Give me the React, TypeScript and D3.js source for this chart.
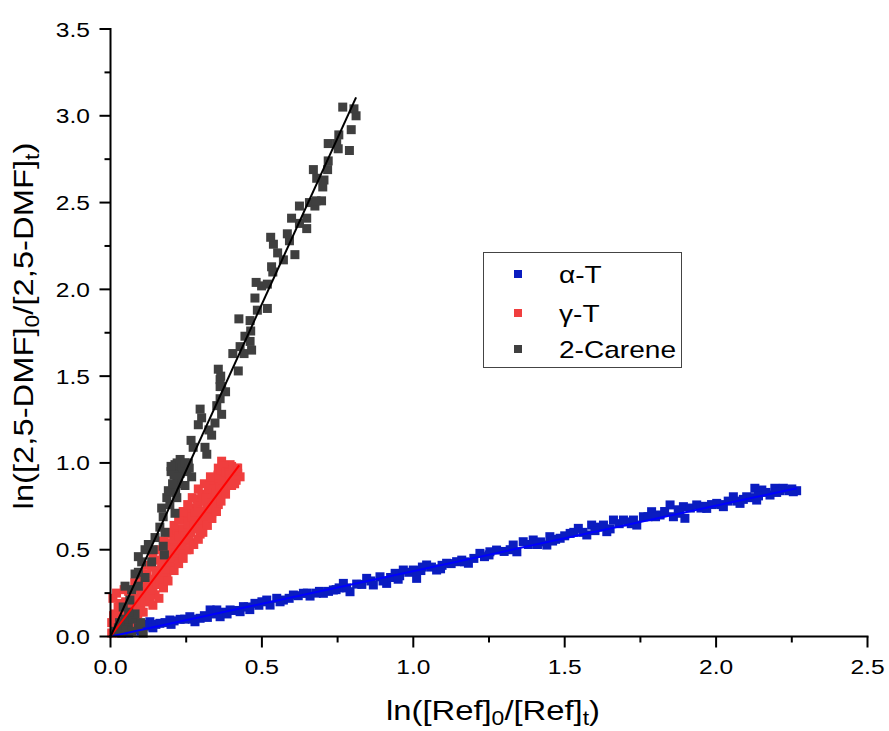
import React from "react";
import * as d3 from "d3";

const xTicks = [0, 0.5, 1.0, 1.5, 2.0, 2.5];
const yTicks = [0, 0.5, 1.0, 1.5, 2.0, 2.5, 3.0, 3.5];
const seriesNames = ["α-T", "γ-T", "2-Carene"];
const markerColors = ["#0A1CC0", "#F03E3E", "#3F3F3F"];
const lineColors = ["#0000FF", "#FF0000", "#000000"];
const fitSlopes = [0.377, 2.32, 3.83];
const fitXEnd = [2.266, 0.425, 0.811];

const alphaPts: [number, number][] = [
  [0.06,0.02],[0.08,0.04],[0.09,0.06],[0.1,0.03],[0.11,0.07],[0.12,0.06],[0.13,0.085],[0.15,0.07],[0.163,0.076],[0.18,0.08],
  [0.196,0.095],[0.21,0.09],[0.23,0.099],[0.245,0.1],[0.262,0.114],[0.279,0.085],[0.296,0.105],[0.31,0.12],[0.329,0.153],[0.34,0.13],
  [0.351,0.153],[0.362,0.114],[0.375,0.14],[0.395,0.153],[0.41,0.15],[0.428,0.143],[0.439,0.172],[0.455,0.17],[0.477,0.191],[0.49,0.18],
  [0.516,0.21],[0.527,0.181],[0.549,0.22],[0.571,0.21],[0.59,0.22],[0.604,0.239],[0.62,0.235],[0.637,0.249],[0.659,0.233],[0.68,0.25],
  [0.703,0.249],[0.72,0.26],[0.736,0.268],[0.755,0.28],[0.769,0.306],[0.791,0.258],[0.813,0.302],[0.83,0.3],[0.846,0.335],[0.868,0.297],
  [0.89,0.344],[0.912,0.306],[0.925,0.34],[0.94,0.364],[0.955,0.35],[0.967,0.383],[0.985,0.37],[1.0,0.383],[1.011,0.335],[1.025,0.38],
  [1.044,0.412],[1.06,0.4],[1.077,0.383],[1.095,0.41],[1.11,0.422],[1.125,0.42],[1.143,0.431],[1.16,0.44],[1.182,0.422],[1.2,0.45],
  [1.22,0.479],[1.235,0.46],[1.253,0.488],[1.275,0.498],[1.3,0.49],[1.33,0.527],[1.342,0.488],[1.363,0.546],[1.38,0.53],[1.396,0.556],
  [1.42,0.545],[1.441,0.527],[1.451,0.575],[1.47,0.56],[1.485,0.566],[1.5,0.58],[1.518,0.594],[1.53,0.6],[1.545,0.623],[1.573,0.585],
  [1.589,0.642],[1.61,0.63],[1.628,0.642],[1.639,0.604],[1.661,0.671],[1.68,0.65],[1.694,0.671],[1.71,0.66],[1.727,0.671],[1.738,0.642],
  [1.76,0.69],[1.775,0.69],[1.787,0.719],[1.815,0.7],[1.83,0.72],[1.848,0.758],[1.859,0.69],[1.875,0.73],[1.892,0.748],[1.897,0.681],
  [1.915,0.74],[1.936,0.758],[1.95,0.74],[1.969,0.738],[1.985,0.76],[2.002,0.767],[2.024,0.748],[2.04,0.78],[2.057,0.805],[2.079,0.767],
  [2.09,0.79],[2.101,0.805],[2.128,0.854],[2.134,0.786],[2.151,0.844],[2.165,0.83],[2.178,0.815],[2.194,0.854],[2.21,0.84],[2.222,0.854],
  [2.24,0.84],[2.255,0.834],[2.266,0.84],
  [0.14,0.05],[0.2,0.07],[0.27,0.1],[0.32,0.11],[0.385,0.13],[0.46,0.155],[0.5,0.2],[0.56,0.2],[0.65,0.25],[0.69,0.26],
  [0.745,0.27],[0.78,0.28],[0.86,0.32],[0.9,0.32],[0.95,0.33],[1.03,0.4],[1.09,0.39],[1.17,0.43],[1.25,0.47],[1.32,0.5],
  [1.41,0.53],[1.46,0.55],[1.56,0.6],[1.6,0.61],[1.65,0.62],[1.72,0.65],[1.8,0.69],[1.88,0.71],[1.96,0.75],[2.015,0.76],
  [2.07,0.78],[2.115,0.8],[2.14,0.81],[2.2,0.83],[2.25,0.85]
];

const gammaPts: [number, number][] = [
  [0.004,0.02],[0.031,0.02],[0.015,0.05],[0.064,0.05],[0.004,0.08],[0.042,0.07],[0.026,0.1],[0.087,0.1],[0.053,0.11],[0.015,0.13],
  [0.037,0.15],[0.081,0.15],[0.108,0.14],[0.031,0.19],[0.059,0.18],[0.008,0.22],[0.02,0.25],[0.045,0.27],[0.097,0.2],[0.13,0.2],
  [0.07,0.23],[0.12,0.25],[0.147,0.24],[0.087,0.28],[0.136,0.31],[0.163,0.3],[0.103,0.33],[0.153,0.34],[0.186,0.34],[0.12,0.36],
  [0.136,0.4],[0.169,0.39],[0.202,0.4],[0.147,0.44],[0.174,0.47],[0.202,0.46],[0.23,0.46],[0.186,0.54],[0.213,0.52],[0.252,0.5],
  [0.202,0.59],[0.235,0.57],[0.273,0.54],[0.219,0.62],[0.263,0.61],[0.296,0.59],[0.246,0.67],[0.285,0.66],[0.312,0.65],[0.257,0.71],
  [0.312,0.71],[0.334,0.71],[0.273,0.74],[0.323,0.77],[0.356,0.76],[0.285,0.79],[0.301,0.82],[0.345,0.82],[0.373,0.83],[0.323,0.84],
  [0.362,0.86],[0.345,0.9],[0.406,0.89],[0.378,0.92],[0.428,0.92],[0.356,0.97],[0.417,0.97],[0.367,1.01],[0.395,0.99],[0.19,0.47],
  [0.22,0.52],[0.26,0.58],[0.28,0.63],[0.3,0.68],[0.32,0.74],[0.34,0.78],[0.36,0.8],[0.38,0.86],[0.39,0.9],[0.4,0.93],
  [0.41,0.95],[0.17,0.42],[0.15,0.38],[0.12,0.3],[0.1,0.26],[0.07,0.19],[0.05,0.14],[0.02,0.06],[0.245,0.55],[0.265,0.62],
  [0.29,0.67],[0.31,0.72],[0.33,0.8],[0.35,0.88],[0.37,0.94],[0.385,0.97],[0.4,0.98],[0.42,0.94],
  [0.01,0.12],[0.025,0.17],[0.035,0.09],[0.05,0.2],[0.06,0.12],[0.075,0.16],[0.085,0.22],[0.09,0.13],[0.1,0.18],[0.11,0.24],
  [0.115,0.2],[0.125,0.28],[0.13,0.23],[0.14,0.27],[0.145,0.33],[0.155,0.3],[0.16,0.36],[0.165,0.33],[0.175,0.37],[0.18,0.43],
  [0.185,0.39],[0.195,0.43],[0.2,0.5],[0.205,0.45],[0.21,0.56],[0.215,0.48],[0.225,0.5],[0.225,0.58],[0.235,0.53],[0.24,0.62],
  [0.245,0.58],[0.255,0.56],[0.255,0.65],[0.265,0.6],[0.27,0.69],[0.275,0.64],[0.28,0.72],[0.29,0.62],[0.29,0.75],[0.3,0.72],
  [0.305,0.78],[0.315,0.69],[0.315,0.8],[0.325,0.74],[0.33,0.87],[0.335,0.77],[0.34,0.85],[0.35,0.83],[0.355,0.93],[0.36,0.86],
  [0.365,0.96],[0.37,0.9],[0.375,0.98],[0.38,0.95],[0.39,0.94],[0.395,0.93],[0.405,0.96],[0.415,0.9],[0.42,0.97],
  [0.14,0.18],[0.16,0.22],[0.175,0.28],[0.19,0.32],[0.21,0.38],[0.225,0.42],[0.24,0.45],[0.26,0.5],[0.275,0.53],[0.29,0.56],
  [0.305,0.6],[0.32,0.64],[0.335,0.68],[0.35,0.72],[0.365,0.78],[0.38,0.82],[0.4,0.87],[0.41,0.88],
  [0.06,0.26],[0.08,0.31],[0.1,0.36],[0.12,0.41],[0.14,0.45],[0.16,0.5],[0.175,0.55],[0.19,0.6],[0.21,0.64],[0.225,0.67],
  [0.24,0.72],[0.255,0.76],[0.27,0.8],[0.29,0.85],[0.31,0.88],[0.33,0.92]
];

const carenePts: [number, number][] = [
  [0.015,0.03],[0.037,0.02],[0.108,0.02],[0.026,0.05],[0.092,0.05],[0.059,0.06],[0.048,0.1],[0.075,0.1],[0.081,0.13],[0.042,0.17],
  [0.064,0.21],[0.048,0.29],[0.07,0.27],[0.092,0.29],[0.114,0.34],[0.081,0.36],[0.092,0.37],[0.103,0.43],[0.136,0.43],[0.092,0.46],
  [0.178,0.47],[0.114,0.5],[0.141,0.5],[0.174,0.52],[0.125,0.53],[0.147,0.57],[0.18,0.6],[0.163,0.63],[0.174,0.69],[0.213,0.71],
  [0.169,0.74],[0.196,0.76],[0.186,0.8],[0.219,0.8],[0.191,0.84],[0.215,0.83],[0.222,0.88],[0.246,0.87],[0.219,0.91],[0.268,0.92],
  [0.213,0.96],[0.23,0.94],[0.252,0.95],[0.213,0.99],[0.24,0.99],[0.257,1.0],[0.23,1.02],[0.318,1.05],[0.273,1.09],[0.312,1.09],
  [0.266,1.13],[0.334,1.16],[0.325,1.19],[0.29,1.22],[0.345,1.23],[0.301,1.26],[0.367,1.28],[0.296,1.31],[0.351,1.33],[0.362,1.37],
  [0.38,1.41],[0.367,1.44],[0.362,1.48],[0.362,1.44],[0.364,1.5],[0.422,1.53],[0.356,1.54],[0.404,1.63],[0.441,1.63],[0.466,1.65],
  [0.428,1.67],[0.461,1.7],[0.444,1.73],[0.463,1.76],[0.461,1.82],[0.424,1.83],[0.485,1.88],[0.518,1.89],[0.477,1.95],[0.481,2.04],
  [0.499,2.02],[0.518,2.03],[0.536,2.1],[0.532,2.13],[0.571,2.17],[0.609,2.2],[0.552,2.21],[0.538,2.26],[0.591,2.28],[0.529,2.3],
  [0.584,2.32],[0.648,2.35],[0.624,2.38],[0.598,2.41],[0.648,2.41],[0.624,2.48],[0.675,2.48],[0.657,2.5],[0.679,2.51],[0.697,2.51],
  [0.701,2.59],[0.705,2.63],[0.681,2.64],[0.67,2.69],[0.717,2.69],[0.719,2.74],[0.789,2.8],[0.752,2.81],[0.719,2.84],[0.747,2.84],
  [0.754,2.89],[0.795,2.92],[0.811,3.0],[0.804,3.04],[0.767,3.05],
  [0.2,0.95],[0.22,1.0],[0.235,0.97],[0.21,0.93],[0.225,0.92],[0.205,0.88],[0.03,0.08],[0.06,0.14],[0.05,0.04],[0.07,0.03],
  [0.1,0.08],[0.2,0.98],[0.245,1.0],[0.26,0.97]
];

const allSeries = [alphaPts, gammaPts, carenePts];

const W = 889;
const H = 731;
const xS = d3.scaleLinear().domain([0, 2.5]).range([110.5, 867.5]);
const yS = d3.scaleLinear().domain([0, 3.5]).range([636.5, 29]);
const FONT = "'Liberation Sans', Arial, Helvetica, sans-serif";
const SX = 1.17;
const MS = 9;

export default function App() {
  const xMinor = d3.range(0.25, 2.5, 0.5);
  const yMinor = d3.range(0.25, 3.5, 0.5);
  const fmt = d3.format(".1f");
  const line = d3.line<[number, number]>().x(d => xS(d[0])).y(d => yS(d[1]));
  return (
    <svg width={W} height={H} style={{ position: "absolute", left: 0, top: 0, background: "#fff" }} fontFamily={FONT}>
      {allSeries.map((pts, si) => (
        <g key={si} fill={markerColors[si]}>
          {pts.map((p, i) => (
            <rect key={i} x={xS(p[0]) - MS / 2} y={yS(p[1]) - MS / 2} width={MS} height={MS} />
          ))}
        </g>
      ))}
      {fitSlopes.map((s, i) => (
        <path key={i} d={line([[0, 0], [fitXEnd[i], s * fitXEnd[i]]]) || ""} stroke={lineColors[i]} strokeWidth={2} fill="none" />
      ))}
      <g stroke="#000" strokeWidth={2}>
        <line x1={xS(0)} x2={xS(0)} y1={yS(3.5) - 1} y2={yS(0) + 1} />
        <line x1={xS(0) - 1} x2={xS(2.5) + 1} y1={yS(0)} y2={yS(0)} />
        {yTicks.map(t => <line key={"ym" + t} x1={xS(0) - 11} x2={xS(0)} y1={yS(t)} y2={yS(t)} />)}
        {yMinor.map(t => <line key={"yn" + t} x1={xS(0) - 6} x2={xS(0)} y1={yS(t)} y2={yS(t)} />)}
        {xTicks.map(t => <line key={"xm" + t} x1={xS(t)} x2={xS(t)} y1={yS(0)} y2={yS(0) + 11} />)}
        {xMinor.map(t => <line key={"xn" + t} x1={xS(t)} x2={xS(t)} y1={yS(0)} y2={yS(0) + 6} />)}
      </g>
      {yTicks.map(t => (
        <g key={"yl" + t} transform={`translate(90,${yS(t) + 7.5}) scale(${SX},1)`}>
          <text textAnchor="end" fontSize={21} fill="#000">{fmt(t)}</text>
        </g>
      ))}
      {xTicks.map(t => (
        <g key={"xl" + t} transform={`translate(${xS(t)},674) scale(${SX},1)`}>
          <text textAnchor="middle" fontSize={21} fill="#000">{fmt(t)}</text>
        </g>
      ))}
      <g transform={`translate(493,720) scale(${SX},1)`}>
        <text textAnchor="middle" fontSize={28} fill="#000">
          ln([Ref]<tspan fontSize={19.6} dy={5}>0</tspan><tspan dy={-5}>/[Ref]</tspan><tspan fontSize={19.6} dy={5}>t</tspan><tspan dy={-5}>)</tspan>
        </text>
      </g>
      <g transform={`translate(33,326) rotate(-90) scale(${SX},1)`}>
        <text textAnchor="middle" fontSize={28} fill="#000">
          ln([2,5-DMF]<tspan fontSize={19.6} dy={6}>0</tspan><tspan dy={-6}>/[2,5-DMF]</tspan><tspan fontSize={19.6} dy={6}>t</tspan><tspan dy={-6}>)</tspan>
        </text>
      </g>
      <rect x={483.5} y={252.5} width={198} height={115} fill="#fff" stroke="#444" strokeWidth={1} />
      {seriesNames.map((n, i) => {
        const cy = [274, 313, 349][i];
        return (
          <g key={n}>
            <rect x={518 - 4} y={cy - 4} width={8} height={8} fill={markerColors[i]} />
            <g transform={`translate(559,${cy + 8.5}) scale(${SX},1)`}>
              <text fontSize={24} fill="#000">{n}</text>
            </g>
          </g>
        );
      })}
    </svg>
  );
}
